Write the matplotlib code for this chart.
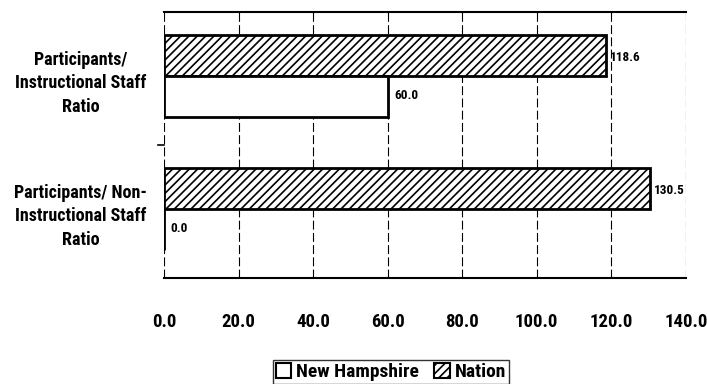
import matplotlib
matplotlib.use("Agg")
import matplotlib.pyplot as plt
from matplotlib.patches import Patch
from matplotlib import font_manager
import numpy as np

categories = ["Participants/\nInstructional Staff\nRatio",
              "Participants/ Non-\nInstructional Staff\nRatio"]
new_hampshire = [60.0, 0.0]
nation = [118.6, 130.5]
xticks = [0, 20, 40, 60, 80, 100, 120, 140]

fl = font_manager.fontManager.ttflist
candidates = ['Liberation Sans Narrow', 'Arimo Narrow', 'Archivo Narrow', 'Roboto Condensed',
              'PT Sans Narrow', 'Asap Condensed', 'Open Sans Condensed', 'Liberation Sans']
fam = None
for c in candidates:
    if any(f.name == c and (f.weight in ('bold', 700) or str(f.weight) in ('700', 'bold')) for f in fl):
        fam = c
        break
if fam is None:
    fam = 'Liberation Sans'
plt.rcParams['font.family'] = [fam, 'DejaVu Sans']
plt.rcParams['hatch.linewidth'] = 1.2

fig = plt.figure(figsize=(7.07, 3.84), dpi=100)
ax = fig.add_axes([0.232, 0.276, 0.738, 0.693])

ypos = np.array([1, 0])  # first category on top
h = 0.31
ax.barh(ypos + h / 2 + 0.02, nation, height=h, color='white', edgecolor='black',
        hatch='////', linewidth=2, zorder=3)
ax.barh(ypos - h / 2 + 0.02, new_hampshire, height=h, color='white', edgecolor='black',
        linewidth=2, zorder=3)

for y, v in zip(ypos, nation):
    ax.text(v + 1.0, y + h / 2 + 0.0, f"{v:.1f}", va='center', ha='left',
            fontsize=9.5, fontweight='bold')
for y, v in zip(ypos, new_hampshire):
    ax.text(v + 1.8, y - h / 2 + 0.03, f"{v:.1f}", va='center', ha='left',
            fontsize=9.5, fontweight='bold')

ax.set_xlim(0, 140)
ax.set_ylim(-0.5, 1.5)
ax.set_xticks(xticks)
ax.set_xticklabels([f"{t:.1f}" for t in xticks], fontsize=13.5, fontweight='bold')
ax.tick_params(axis='x', length=0, pad=25)

ax.set_yticks(ypos)
ax.set_yticklabels(categories, fontsize=13, fontweight='bold', ha='center',
                   multialignment='center', linespacing=1.4)
ax.tick_params(axis='y', length=0, pad=60)
# category separator tick
ax.plot([-1.5, 0], [0.5, 0.5], color='black', lw=1.2, clip_on=False, zorder=4)

ax.xaxis.grid(True, linestyle=(0, (8, 3)), color='black', linewidth=0.8, zorder=0)
ax.spines['left'].set_visible(False)
ax.spines['right'].set_visible(False)
ax.spines['top'].set_linewidth(1.5)
ax.spines['bottom'].set_linewidth(1.5)

handles = [Patch(facecolor='white', edgecolor='black', linewidth=1.5, label='New Hampshire'),
           Patch(facecolor='white', edgecolor='black', linewidth=1.5, hatch='////', label='Nation')]
leg = fig.legend(handles=handles, loc='lower center', bbox_to_anchor=(0.553, -0.025), ncol=2,
                 frameon=True, fancybox=False, edgecolor='black',
                 prop={'weight': 'bold', 'size': 14},
                 handlelength=0.8, handleheight=0.8, handletextpad=0.25,
                 columnspacing=0.8, borderpad=0.15)
leg.get_frame().set_linewidth(1.0)

fig.savefig("out.png", dpi=100)
